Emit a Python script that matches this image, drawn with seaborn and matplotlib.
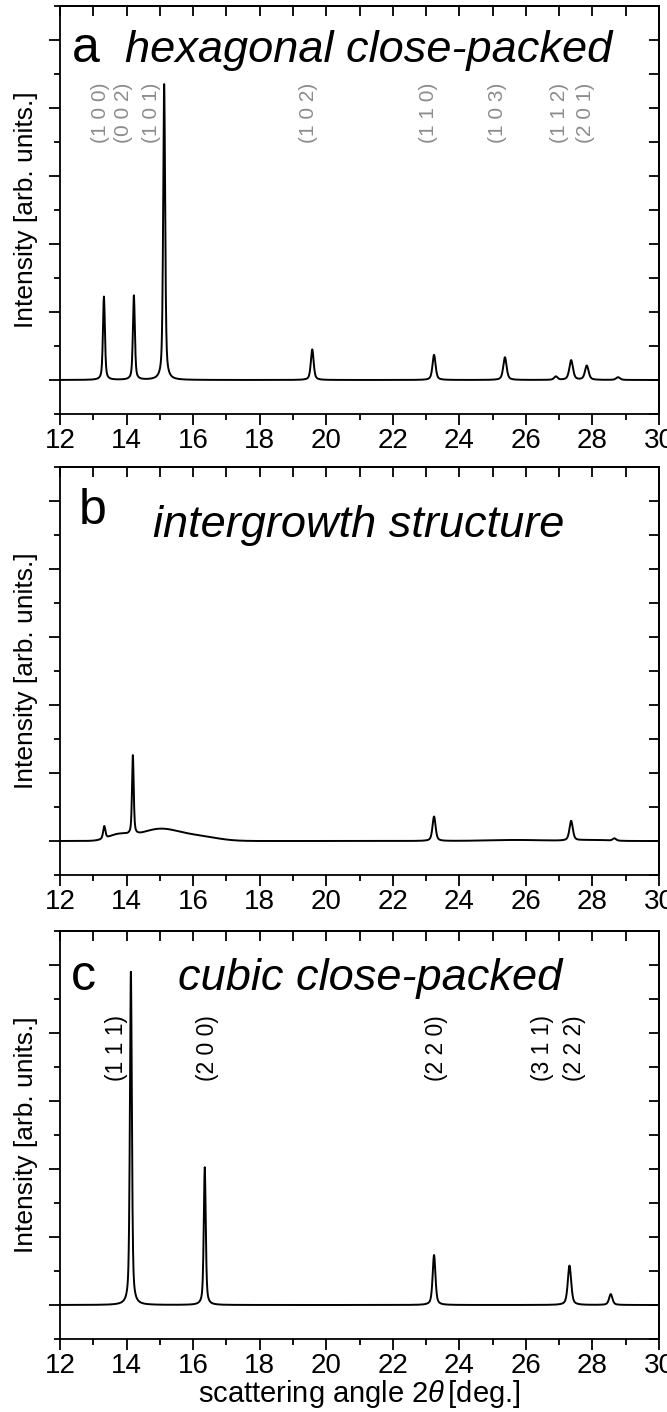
import numpy as np
import pandas as pd
import matplotlib
matplotlib.use("Agg")
import matplotlib.pyplot as plt
import seaborn as sns
from matplotlib.ticker import MultipleLocator, NullFormatter

# ---------------- data ----------------
x_limits = (12, 30)
y_limits = (-1, 11)

# panel a : hexagonal close-packed  (peak position [deg], height [arb.], FWHM [deg])
hcp_pos = [13.32, 14.22, 15.13, 19.58, 23.24, 25.37, 26.90, 27.36, 27.83, 28.77]
hcp_height = [2.45, 2.48, 8.70, 0.90, 0.74, 0.67, 0.10, 0.58, 0.42, 0.08]
hcp_fwhm = [0.07, 0.07, 0.07, 0.10, 0.11, 0.12, 0.12, 0.13, 0.13, 0.14]
hcp_labels = ["(1 0 0)", "(0 0 2)", "(1 0 1)", "(1 0 2)", "(1 1 0)",
              "(1 0 3)", "(1 1 2)", "(2 0 1)"]
hcp_label_x = [13.23, 13.92, 14.76, 19.47, 23.08, 25.15, 27.02, 27.80]

# panel b : intergrowth structure
inter_pos = [13.33, 14.19, 23.24, 27.36, 28.66]
inter_height = [0.37, 2.33, 0.72, 0.58, 0.07]
inter_fwhm = [0.08, 0.06, 0.11, 0.12, 0.12]
# diffuse (stacking-fault) scattering components: centre, height, FWHM
diffuse_pos = [13.75, 15.00, 16.20, 25.70, 28.00]
diffuse_height = [0.17, 0.35, 0.12, 0.03, 0.03]
diffuse_fwhm = [0.70, 1.40, 1.30, 2.00, 1.00]

# panel c : cubic close-packed
ccp_pos = [14.13, 16.35, 23.24, 27.31, 28.55]
ccp_height = [9.80, 4.05, 1.47, 1.16, 0.32]
ccp_fwhm = [0.07, 0.07, 0.10, 0.12, 0.12]
ccp_labels = ["(1 1 1)", "(2 0 0)", "(2 2 0)", "(3 1 1)", "(2 2 2)"]
ccp_label_x = [13.71, 16.42, 23.30, 26.50, 27.45]

panel_letters = ["a", "b", "c"]
panel_titles = ["hexagonal close-packed", "intergrowth structure", "cubic close-packed"]

# ---------------- profile model ----------------
two_theta = np.linspace(x_limits[0], x_limits[1], 3601)


def pseudo_voigt(x, pos, height, fwhm, eta=0.55):
    total = np.zeros_like(x)
    for p, h, w in zip(pos, height, fwhm):
        d = (x - p) / w
        lor = 1.0 / (1.0 + 4.0 * d ** 2)
        gau = np.exp(-4.0 * np.log(2) * d ** 2)
        total += h * (eta * lor + (1 - eta) * gau)
    return total


def gauss(x, pos, height, fwhm):
    total = np.zeros_like(x)
    for p, h, w in zip(pos, height, fwhm):
        total += h * np.exp(-4.0 * np.log(2) * ((x - p) / w) ** 2)
    return total


int_a = pseudo_voigt(two_theta, hcp_pos, hcp_height, hcp_fwhm)
int_b = pseudo_voigt(two_theta, inter_pos, inter_height, inter_fwhm) + \
    gauss(two_theta, diffuse_pos, diffuse_height, diffuse_fwhm)
int_c = pseudo_voigt(two_theta, ccp_pos, ccp_height, ccp_fwhm)

frames = [pd.DataFrame({"two_theta": two_theta, "intensity": y}) for y in (int_a, int_b, int_c)]

# ---------------- style ----------------
sns.set_style("ticks")
plt.rcParams["font.family"] = ["Liberation Sans", "DejaVu Sans"]
plt.rcParams["mathtext.fontset"] = "custom"
plt.rcParams["mathtext.rm"] = "Liberation Sans"
plt.rcParams["mathtext.it"] = "Liberation Sans:italic"
for key in ["text.color", "axes.labelcolor", "xtick.color", "ytick.color",
            "axes.edgecolor", "xtick.labelcolor", "ytick.labelcolor"]:
    plt.rcParams[key] = "black"

W, H = 667, 1412
fig = plt.figure(figsize=(W / 100, H / 100), dpi=100)
fig.patch.set_facecolor("white")

left_px, right_px = 60, 659
tops_px = [6, 467, 931]
ax_h_px = 408

spine_w = 1.3
axes = []
for i, top in enumerate(tops_px):
    ax = fig.add_axes([left_px / W, 1 - (top + ax_h_px) / H,
                       (right_px - left_px) / W, ax_h_px / H])
    axes.append(ax)
    sns.lineplot(data=frames[i], x="two_theta", y="intensity", ax=ax,
                 color="black", linewidth=1.4, estimator=None, sort=False)
    ax.set_xlim(*x_limits)
    ax.set_ylim(*y_limits)
    ax.set_facecolor("white")
    for s in ax.spines.values():
        s.set_visible(True)
        s.set_linewidth(spine_w)
        s.set_color("black")

    ax.xaxis.set_major_locator(MultipleLocator(2))
    ax.xaxis.set_minor_locator(MultipleLocator(1))
    ax.yaxis.set_major_locator(MultipleLocator(2))
    ax.yaxis.set_minor_locator(MultipleLocator(1))
    ax.yaxis.set_major_formatter(NullFormatter())
    ax.tick_params(which="major", direction="out", length=8, width=spine_w,
                   top=False, right=False, labelsize=20, pad=2,
                   color="black", labelcolor="black")
    ax.tick_params(which="minor", direction="out", length=4.5, width=spine_w,
                   top=False, right=False, color="black")

    sec_x = ax.secondary_xaxis("top")
    sec_x.xaxis.set_major_locator(MultipleLocator(1))
    sec_x.xaxis.set_major_formatter(NullFormatter())
    sec_x.tick_params(direction="in", length=7, width=spine_w, color="black")
    sec_x.spines["top"].set_linewidth(spine_w)
    sec_x.spines["top"].set_color("black")
    sec_y = ax.secondary_yaxis("right")
    sec_y.yaxis.set_major_locator(MultipleLocator(1))
    sec_y.yaxis.set_major_formatter(NullFormatter())
    sec_y.tick_params(direction="in", length=7, width=spine_w, color="black")
    sec_y.spines["right"].set_linewidth(spine_w)
    sec_y.spines["right"].set_color("black")

    ax.set_ylabel("Intensity [arb. units.]", fontsize=19, color="black")
    ax.yaxis.set_label_coords(-0.037, 0.5)
    ax.set_xlabel("")

# panel letters and titles
letter_y = [9.35, 9.32, 9.26]
title_y = [9.35, 8.94, 9.26]
letter_x = [12.35, 12.55, 12.33]
title_x = [13.95, 14.80, 15.55]
for i, ax in enumerate(axes):
    ax.text(letter_x[i], letter_y[i], panel_letters[i], fontsize=36,
            ha="left", va="baseline", color="black")
    ax.text(title_x[i], title_y[i], panel_titles[i], fontsize=32.5,
            style="italic", ha="left", va="baseline", color="black")

# reflection labels
for lab, lx in zip(hcp_labels, hcp_label_x):
    axes[0].text(lx, 6.97, lab, rotation=90, ha="center", va="bottom",
                 fontsize=15, color="#8c8c8c")
for lab, lx in zip(ccp_labels, ccp_label_x):
    axes[2].text(lx, 8.53, lab, rotation=90, ha="center", va="top",
                 fontsize=16.5, color="black")

axes[2].set_xlabel(r"scattering angle $\mathit{2}\theta\,$[deg.]", fontsize=21,
                   color="black")
axes[2].xaxis.set_label_coords(0.5, -0.095)
axes[2].xaxis.label.set_va("top")

fig.savefig("out.png", dpi=100, facecolor="white")
